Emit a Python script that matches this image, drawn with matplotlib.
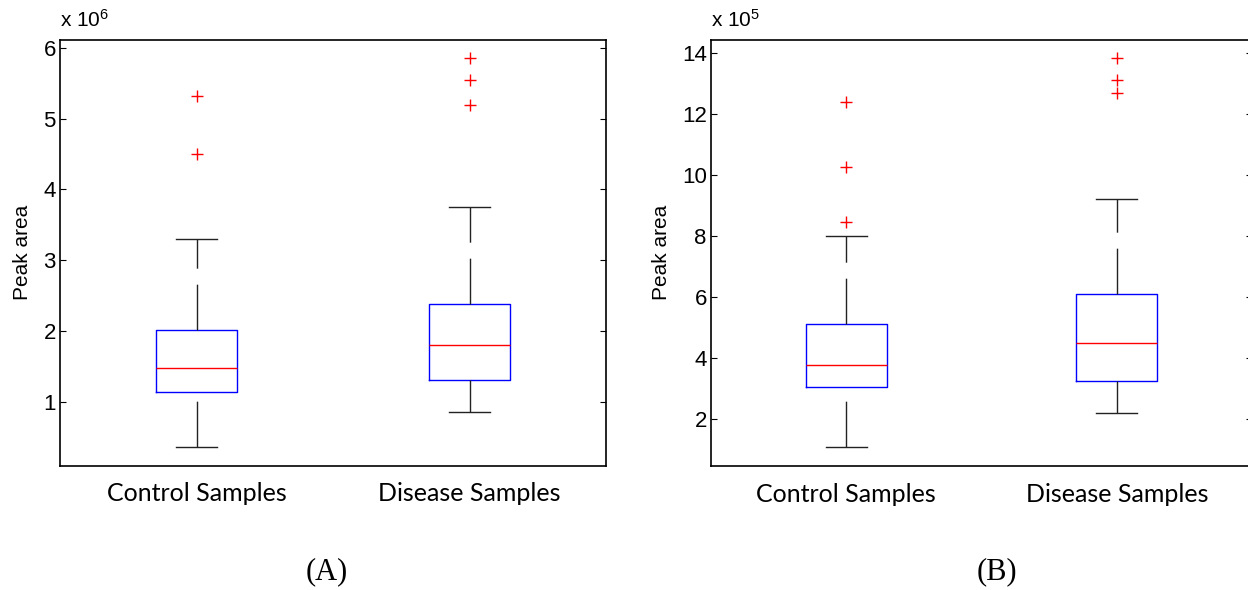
import matplotlib
matplotlib.use("Agg")
import matplotlib.pyplot as plt
from matplotlib.ticker import FuncFormatter

plt.rcParams["font.family"] = ["Liberation Sans", "DejaVu Sans"]
plt.rcParams["mathtext.default"] = "regular"

groups = ["Control Samples", "Disease Samples"]

# panel A (peak area, raw units)
a_whislo = [372000, 862000]
a_q1 = [1140000, 1313000]
a_med = [1482000, 1807000]
a_q3 = [2018000, 2385000]
a_whishi = [3300000, 3750000]
a_fliers = [[4500000, 5320000], [5190000, 5540000, 5850000]]

# panel B
b_whislo = [108000, 220000]
b_q1 = [304000, 325000]
b_med = [378000, 449000]
b_q3 = [512000, 610000]
b_whishi = [801000, 921000]
b_fliers = [[847000, 1026000, 1239000], [1269000, 1311000, 1384000]]


def draw_panel(ax, whislo, q1, med, q3, whishi, fliers, scale, exp, ylim, yticks):
    stats = []
    for i in range(len(groups)):
        stats.append(dict(label=groups[i], whislo=whislo[i], q1=q1[i], med=med[i],
                          q3=q3[i], whishi=whishi[i], fliers=fliers[i]))
    res = ax.bxp(stats, positions=[1, 2], widths=0.3, showfliers=True,
                 boxprops=dict(color="blue", linewidth=1.0),
                 medianprops=dict(color="red", linewidth=1.0),
                 whiskerprops=dict(color="#222222", linewidth=1.0, dashes=(33, 11.5)),
                 capprops=dict(color="#222222", linewidth=1.0),
                 flierprops=dict(marker="+", markeredgecolor="red", markersize=8,
                                 markeredgewidth=1.0, linestyle="none"))
    # lower whiskers: start the dash pattern at the cap end
    for w in res["whiskers"][0::2]:
        x, y = w.get_data()
        w.set_data(x[::-1], y[::-1])

    ax.set_xlim(0.5, 2.5)
    ax.set_ylim(*ylim)
    ax.set_yticks(yticks)
    ax.yaxis.set_major_formatter(FuncFormatter(lambda v, p: f"{v / scale:g}"))
    ax.tick_params(axis="y", direction="in", right=True, length=4, labelsize=16, pad=3)
    ax.tick_params(axis="x", length=0, pad=12)
    for lab in ax.get_xticklabels():
        lab.set_fontfamily("Lato")
        lab.set_fontsize(18)
    ax.set_ylabel("Peak area", fontsize=15, labelpad=8)
    ax.text(0.0, 1.02, "x 10$^{%d}$" % exp, transform=ax.transAxes,
            ha="left", va="bottom", fontsize=15)
    for s in ax.spines.values():
        s.set_linewidth(1.2)


fig = plt.figure(figsize=(12.48, 5.90), dpi=100)
ax1 = fig.add_axes([60 / 1248, 1 - 465.5 / 590, 546 / 1248, 426 / 590])
ax2 = fig.add_axes([711 / 1248, 1 - 466 / 590, 541 / 1248, 426.5 / 590])

draw_panel(ax1, a_whislo, a_q1, a_med, a_q3, a_whishi, a_fliers,
           1e6, 6, (0.104e6, 6.116e6), [1e6, 2e6, 3e6, 4e6, 5e6, 6e6])
draw_panel(ax2, b_whislo, b_q1, b_med, b_q3, b_whishi, b_fliers,
           1e5, 5, (0.46e5, 14.44e5), [2e5, 4e5, 6e5, 8e5, 10e5, 12e5, 14e5])

fig.text(327 / 1248, 1 - 572 / 590, "(A)", ha="center", va="center",
         fontfamily="Liberation Serif", fontsize=22)
fig.text(997 / 1248, 1 - 572 / 590, "(B)", ha="center", va="center",
         fontfamily="Liberation Serif", fontsize=22)

fig.savefig("out.png", dpi=100)
